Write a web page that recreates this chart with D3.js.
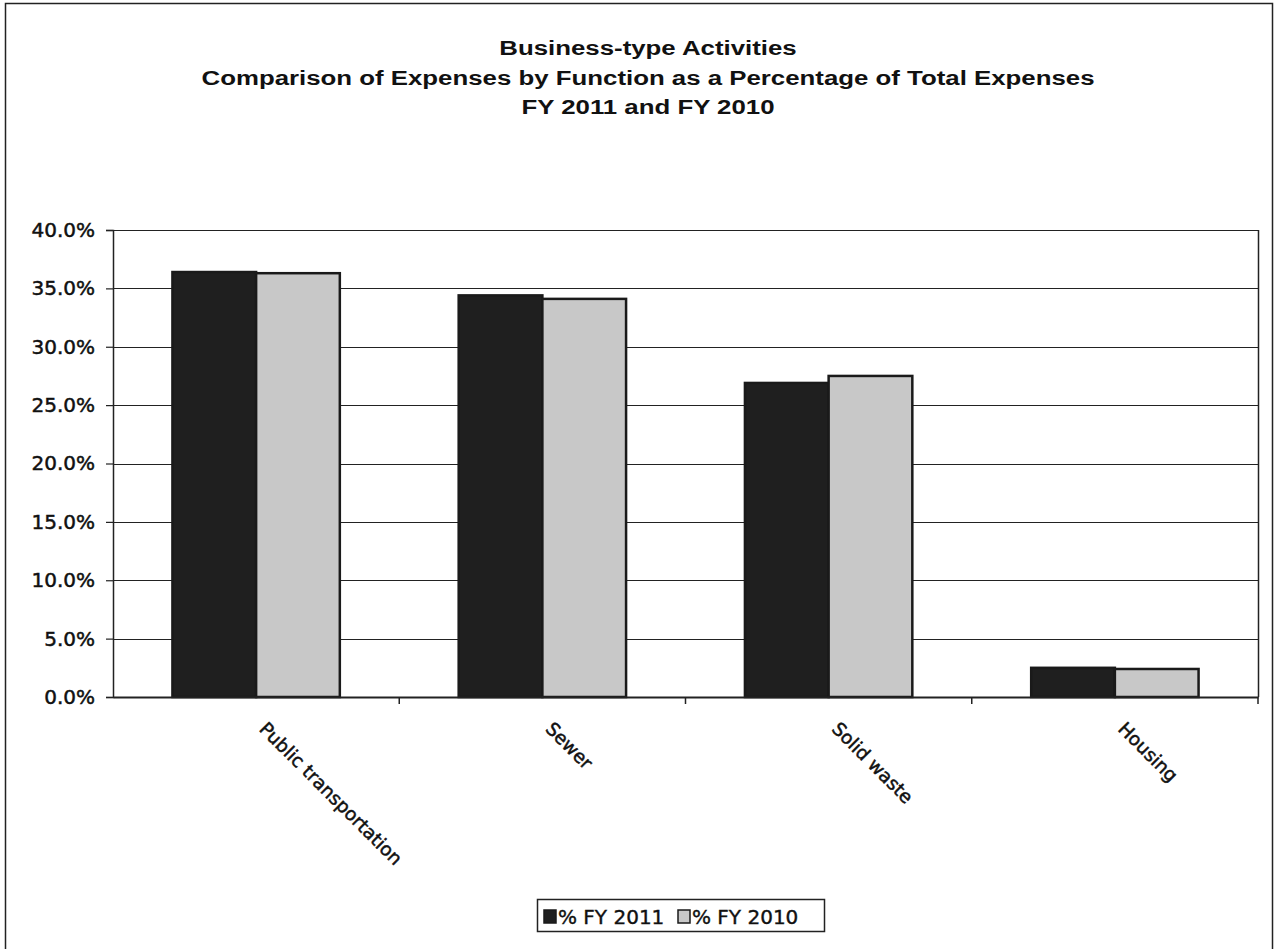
<!DOCTYPE html>
<html>
<head>
<meta charset="utf-8">
<script src="https://cdnjs.cloudflare.com/ajax/libs/d3/7.8.5/d3.min.js"></script>
<style>
  body { margin: 0; background: #fff; }
</style>
</head>
<body>
<div id="chart"></div>
<script>
// data
var categories = ['Public transportation', 'Sewer', 'Solid waste', 'Housing'];
var series = ['% FY 2011', '% FY 2010'];
var fy2011 = [36.4, 34.4, 26.9, 2.5];
var fy2010 = [36.3, 34.1, 27.5, 2.4];
var y_ticks = [0, 5, 10, 15, 20, 25, 30, 35, 40];
var title_lines = [
  'Business-type Activities',
  'Comparison of Expenses by Function as a Percentage of Total Expenses',
  'FY 2011 and FY 2010'
];

var chart_width = 1278;
var chart_height = 949;
var plot = { left: 113, right: 1258, top: 230, bottom: 697 };
var colors = ['#1f1f1f', '#c8c8c8'];
var tick_font = '"DejaVu Sans", Verdana, sans-serif';

var svg = d3.select('#chart')
  .append('svg')
  .attr('width', chart_width)
  .attr('height', chart_height);

// outer frame
svg.append('rect')
  .attr('x', 5.5)
  .attr('y', 3.5)
  .attr('width', 1267)
  .attr('height', 960)
  .attr('fill', 'none')
  .attr('stroke', '#222')
  .attr('stroke-width', 1.5);

// title (the scan is stretched sideways, so the text is too)
svg.append('g')
  .selectAll('text')
  .data(title_lines)
  .enter()
  .append('text')
  .text(function(d) { return d; })
  .attr('transform', function(d, i) {
    return 'translate(648,' + (55 + i * 29.5) + ') scale(1.26,1)';
  })
  .attr('text-anchor', 'middle')
  .attr('font-family', '"Liberation Sans", Arial, sans-serif')
  .attr('font-weight', 'bold')
  .attr('font-size', 20.5)
  .attr('fill', '#111');

// scales
var x_scale = d3.scaleBand()
  .domain(categories)
  .range([plot.left, plot.right])
  .padding(0);

var x_inner = d3.scaleBand()
  .domain(series)
  .range([0, x_scale.bandwidth()])
  .paddingInner(0)
  .paddingOuter(0.71);

var y_scale = d3.scaleLinear()
  .domain([0, 40])
  .range([plot.bottom, plot.top]);

// gridlines
svg.append('g')
  .selectAll('line')
  .data(y_ticks.slice(1))
  .enter()
  .append('line')
  .attr('x1', plot.left)
  .attr('x2', plot.right)
  .attr('y1', function(d) { return Math.round(y_scale(d)) + 0.5; })
  .attr('y2', function(d) { return Math.round(y_scale(d)) + 0.5; })
  .attr('stroke', '#222')
  .attr('stroke-width', 1.2);

// plot area right edge
svg.append('line')
  .attr('x1', plot.right + 0.5)
  .attr('x2', plot.right + 0.5)
  .attr('y1', plot.top)
  .attr('y2', plot.bottom)
  .attr('stroke', '#222')
  .attr('stroke-width', 1.5);

// bars
var rows = categories.map(function(c, i) {
  return [
    { cat: c, key: series[0], value: fy2011[i] },
    { cat: c, key: series[1], value: fy2010[i] }
  ];
});

svg.append('g')
  .selectAll('g')
  .data(rows)
  .enter()
  .append('g')
  .attr('transform', function(d) { return 'translate(' + x_scale(d[0].cat) + ',0)'; })
  .selectAll('rect')
  .data(function(d) { return d; })
  .enter()
  .append('rect')
  .attr('x', function(d) { return x_inner(d.key); })
  .attr('y', function(d) { return y_scale(d.value); })
  .attr('width', x_inner.bandwidth())
  .attr('height', function(d) { return y_scale(0) - y_scale(d.value); })
  .attr('fill', function(d, i) { return colors[i]; })
  .attr('stroke', '#1a1a1a')
  .attr('stroke-width', 2.5);

// y axis
var y_axis = d3.axisLeft(y_scale)
  .tickValues(y_ticks)
  .tickSize(7)
  .tickPadding(11)
  .tickFormat(function(d) { return d.toFixed(1) + '%'; });

svg.append('g')
  .attr('transform', 'translate(' + plot.left + ',0)')
  .call(y_axis)
  .call(function(g) {
    g.select('.domain').attr('stroke', '#222').attr('stroke-width', 1.5);
    g.selectAll('.tick line').attr('stroke', '#222').attr('stroke-width', 1.2);
    g.selectAll('.tick text')
      .attr('font-family', tick_font)
      .attr('font-size', 20)
      .attr('fill', '#111')
      .attr('stroke', '#111')
      .attr('stroke-width', 0.5);
  });

// x axis: ticks at band edges
var x_axis = d3.axisBottom(x_scale)
  .tickSize(0)
  .tickFormat('');

svg.append('g')
  .attr('transform', 'translate(0,' + plot.bottom + ')')
  .call(x_axis)
  .call(function(g) {
    g.select('.domain').attr('stroke', '#222').attr('stroke-width', 2);
  });

svg.append('g')
  .selectAll('line')
  .data(categories)
  .enter()
  .append('line')
  .attr('x1', function(d) { return x_scale(d) + x_scale.bandwidth(); })
  .attr('x2', function(d) { return x_scale(d) + x_scale.bandwidth(); })
  .attr('y1', plot.bottom)
  .attr('y2', plot.bottom + 7)
  .attr('stroke', '#222')
  .attr('stroke-width', 1.5);

// rotated category labels
svg.append('g')
  .selectAll('text')
  .data(categories)
  .enter()
  .append('text')
  .text(function(d) { return d; })
  .attr('transform', function(d) {
    var cx = x_scale(d) + x_scale.bandwidth() / 2;
    return 'translate(' + (cx + 2) + ',' + (plot.bottom + 33) + ') rotate(45)';
  })
  .attr('text-anchor', 'start')
  .attr('font-family', tick_font)
  .attr('font-size', 18.5)
  .attr('fill', '#111')
  .attr('stroke', '#111')
  .attr('stroke-width', 0.5);

// legend
var legend = svg.append('g')
  .attr('transform', 'translate(537,899)');

legend.append('rect')
  .attr('x', 0.5)
  .attr('y', 0.5)
  .attr('width', 287)
  .attr('height', 32)
  .attr('fill', '#fff')
  .attr('stroke', '#222')
  .attr('stroke-width', 1.5);

var legend_x = [7, 141];

legend.selectAll('.key')
  .data(series)
  .enter()
  .append('rect')
  .attr('class', 'key')
  .attr('x', function(d, i) { return legend_x[i]; })
  .attr('y', 11)
  .attr('width', 12)
  .attr('height', 13)
  .attr('fill', function(d, i) { return colors[i]; })
  .attr('stroke', '#1a1a1a')
  .attr('stroke-width', 1.5);

legend.selectAll('.label')
  .data(series)
  .enter()
  .append('text')
  .attr('class', 'label')
  .text(function(d) { return d; })
  .attr('x', function(d, i) { return legend_x[i] + 14; })
  .attr('y', 24.5)
  .attr('font-family', tick_font)
  .attr('font-size', 20)
  .attr('fill', '#111')
  .attr('stroke', '#111')
  .attr('stroke-width', 0.4);
</script>
</body>
</html>
